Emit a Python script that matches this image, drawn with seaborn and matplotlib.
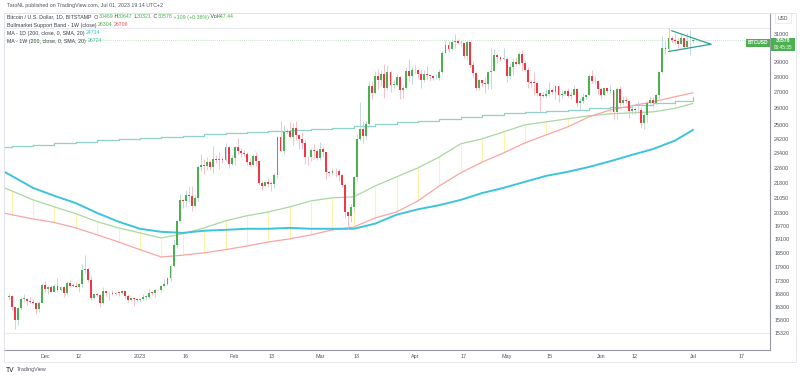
import matplotlib
matplotlib.use("Agg")
import matplotlib.pyplot as plt
from matplotlib.patches import Rectangle
from matplotlib.ticker import FixedLocator, FixedFormatter, NullLocator
import pandas as pd
import seaborn as sns

# ---------------- data ----------------
# daily BTCUSD candles, 2022-11-19 .. 2023-07-01
candle_start = "2022-11-19"
first_open = 16690
closes = [
    16700, 16280, 15780, 16230, 16600, 16600, 16520, 16460, 16440, 16210, 16440, 17160,
    16980, 17090, 16880, 17110, 16970, 17090, 16840, 17230, 17130, 17130,
    17090, 17210, 17780, 17810, 17360, 16630, 16780, 16740, 16440, 16900,
    16830, 16820, 16780, 16840, 16830, 16920, 16700, 16550, 16630, 16600, 16540,
    16610, 16670, 16670, 16850, 16830, 16950, 16940, 17120, 17190, 17440,
    17940, 18850, 19930, 20950, 20880, 21180, 21130, 20680, 21070, 22670,
    22780, 22710, 22920, 22630, 23060, 23010, 23080, 23030, 23740, 22830, 23130,
    23730, 23490, 23430, 23330, 22930, 22760, 23260, 22960, 21800, 21630,
    21860, 21780, 21780, 22200, 24330, 23520, 24570, 24630, 24280, 24830,
    24440, 24190, 23940, 23190, 23160, 23560, 23490, 23150,
    23650, 23470, 22360, 22350, 22430, 22410, 22200, 21710, 20360, 20190,
    20630, 22130, 24190, 24760, 24380, 25050, 27420, 26960, 28040, 27790,
    28170, 27310, 28330, 27490, 27490, 28000, 27140, 27270, 28360, 28030, 28480,
    28460, 28200, 27800, 28170, 28160, 28030, 27920, 27950, 28330, 29640,
    30220, 29900, 30390, 30470, 30320, 30320, 29430, 30400, 28800, 28240,
    27260, 27820, 27590, 27510, 28300, 28420, 29470, 29320, 29230, 29230,
    28070, 28680, 29030, 28850, 29530, 28900, 28450, 27690, 27630, 27620,
    26990, 26800, 26780, 26920, 27170, 27030, 27400, 26830, 26890, 27110,
    26750, 26850, 27230, 26330, 26480, 26720, 26860, 28080, 27740, 27700, 27210,
    26820, 27250, 27070, 27120, 25760, 27240, 26350, 26500, 26480, 25850,
    25940, 25900, 25920, 25130, 25580, 26340, 26520, 26340, 26850, 28310,
    30000, 29890, 30690, 30550, 30470, 30270, 30690, 30080, 30450, 30469,
    30578,
]
highs = [
    16820, 16750, 16290, 16300, 16680, 16810, 16620, 16690, 16600, 16480, 16530, 17250,
    17320, 17100, 17150, 17200, 17420, 17110, 17130, 17300, 17350, 17230,
    17270, 17250, 18000, 18390, 17850, 17530, 16800, 16860, 16810, 17060,
    16910, 16860, 16950, 16860, 16870, 16940, 16960, 16780, 16660, 16640, 16640,
    16630, 16780, 16770, 16990, 16880, 17010, 16960, 17170, 17390, 17490,
    17990, 19100, 19990, 21260, 21000, 21460, 21640, 21640, 21190, 22730,
    23360, 23080, 23160, 23000, 23790, 23300, 23480, 23160, 23950, 23810, 23300,
    23800, 24250, 23710, 23580, 23440, 23150, 23350, 23450, 22990, 21930,
    21900, 22090, 21890, 22320, 24380, 25250, 24990, 24740, 25180, 25120,
    25250, 24470, 24600, 24140, 23220, 23680, 23880, 23600,
    24000, 23790, 23480, 22410, 22620, 22600, 22530, 22270, 21830, 20360,
    20770, 22160, 24500, 26400, 25230, 25220, 27750, 27720, 28400, 28500,
    28430, 28840, 28780, 28390, 27800, 28200, 28030, 27500, 28630, 29180, 28650,
    28800, 28530, 28490, 28440, 28750, 28180, 28100, 28170, 28540, 29760,
    30550, 30480, 30600, 31000, 30600, 30540, 30320, 30480, 30420, 29080,
    28370, 27880, 27820, 28000, 28400, 30000, 29880, 29580, 29440, 29950,
    29330, 28900, 29270, 29360, 29680, 29840, 29170, 28640, 27830, 28300,
    27650, 27030, 27020, 27200, 27650, 27300, 27480, 27480, 27180, 27160,
    27280, 27050, 27480, 27230, 26630, 26930, 26920, 28200, 28440, 28030, 27830,
    27350, 27300, 27300, 27440, 27130, 27350, 27380, 26800, 26790, 26540,
    26200, 26090, 26430, 26090, 25750, 26470, 26780, 26690, 26990, 28400,
    30800, 30500, 31400, 30810, 31050, 30660, 31000, 30700, 31030, 31280,
    30647,
]
lows = [
    16560, 16180, 15480, 15620, 16170, 16480, 16360, 16420, 16400, 16000, 16110, 16430,
    16880, 16800, 16860, 16880, 16880, 16920, 16690, 16740, 17090, 17090,
    17070, 16880, 17080, 17660, 17280, 16570, 16590, 16660, 16300, 16400,
    16730, 16560, 16760, 16770, 16730, 16780, 16610, 16470, 16500, 16340, 16480,
    16490, 16550, 16610, 16650, 16760, 16670, 16910, 16910, 17100, 17150,
    17320, 17900, 18710, 19900, 20560, 20600, 20850, 20410, 20660, 20880,
    22450, 22300, 22500, 22480, 22330, 22850, 22560, 22880, 22980, 22570, 22730,
    22780, 23360, 23200, 23260, 22750, 22640, 22720, 22680, 21690, 21460,
    21600, 21620, 21380, 21530, 22050, 23520, 23340, 24450, 24260, 23860,
    24150, 23600, 23600, 22820, 22730, 22970, 23100, 23030,
    23020, 23200, 21990, 22160, 22200, 22110, 21930, 21590, 20070, 19570,
    19900, 20380, 21930, 24050, 23950, 24200, 24950, 26600, 26900, 27200,
    27380, 26650, 27140, 27020, 27250, 27400, 26560, 26650, 27240, 27720, 27550,
    28250, 27880, 27260, 27670, 27820, 27740, 27780, 27880, 27800, 28170,
    29620, 29700, 29860, 29960, 30240, 30150, 29260, 29120, 28600, 28010,
    27130, 27150, 27360, 26960, 27200, 27220, 28380, 28900, 29060, 29110,
    27690, 27880, 28120, 28700, 28820, 28400, 28400, 27300, 27340, 26840,
    26750, 25850, 26710, 26620, 26750, 26880, 26610, 26390, 26670, 26860,
    26700, 26550, 26820, 26100, 25870, 26350, 26600, 26830, 27570, 27560, 26880,
    26600, 26780, 26950, 26950, 25380, 25350, 26130, 26230, 26330, 25400,
    25630, 25630, 25740, 24830, 24780, 25180, 26170, 26300, 26260, 26650,
    28270, 29540, 29820, 30300, 30270, 29950, 30230, 29900, 30060, 29500,
    30321,
]

# weekly points (Sundays, last = Jul 01) for the overlays
week_dates = list(pd.date_range("2022-11-13", "2023-06-25", freq="7D")) + [pd.Timestamp("2023-07-01")]
ma_1d = [22800, 22180, 21560, 21160, 20800, 20320, 19910, 19580, 19440, 19390, 19490, 19530,
         19580, 19580, 19620, 19580, 19580, 19580, 19820, 20240, 20500, 20700, 20960, 21300,
         21560, 21870, 22180, 22390, 22650, 22960, 23300, 23630, 24090, 24714]
ma_1w = [23740, 23800, 23860, 23940, 24030, 24110, 24200, 24260, 24310, 24370, 24460, 24520,
         24600, 24660, 24720, 24780, 24830, 24950, 25070, 25190, 25250, 25370, 25490, 25610,
         25730, 25790, 25850, 25910, 26040, 26100, 26220, 26350, 26470, 26724]
band_sma = [21850, 21410, 20960, 20615, 20290, 19910, 19620, 19390, 19160, 19350, 19620, 19950,
            20190, 20370, 20615, 20910, 21060, 21110, 21660, 22130, 22600, 23190, 23920, 24200,
            24600, 25010, 25190, 25370, 25550, 25670, 25730, 25790, 26000, 26304]
band_ema = [20450, 20240, 20040, 19870, 19620, 19300, 18980, 18640, 18320, 18400, 18500, 18640,
            18800, 18980, 19120, 19300, 19530, 19660, 20090, 20370, 20910, 21660, 22340, 22910,
            23410, 23970, 24430, 24890, 25490, 25910, 26160, 26410, 26720, 26970]

# triangle drawing
tri_upper_x = ["2023-06-24 00:00", "2023-07-06 21:00"]
tri_upper_y = [31220, 30240]
tri_lower_x = ["2023-06-23 00:00", "2023-07-06 21:00"]
tri_lower_y = [29730, 30240]

last_price = 30578
level_lines = [31450, 15320]

price_ticks = [31000, 29000, 28000, 27000, 26000, 25000, 24200, 23400, 22600, 21800, 21050,
               20300, 19700, 19100, 18500, 17900, 17300, 16800, 16300, 15800, 15320]
date_ticks = ["2022-12-01", "2022-12-12", "2023-01-01", "2023-01-16", "2023-02-01", "2023-02-13",
              "2023-03-01", "2023-03-13", "2023-04-01", "2023-04-17", "2023-05-01", "2023-05-15",
              "2023-06-01", "2023-06-12", "2023-07-01", "2023-07-17"]
date_labels = ["Dec", "12", "2023", "16", "Feb", "13", "Mar", "13", "Apr", "17", "May", "15",
               "Jun", "12", "Jul", "17"]

# ---------------- figure ----------------
sns.set_theme(style="white")
plt.rcParams["font.family"] = ["Liberation Sans", "DejaVu Sans"]

W, H = 800, 378
GREEN, RED = "#4caf50", "#f23645"
GREY_TXT = "#50535e"

fig = plt.figure(figsize=(W / 100, H / 100), dpi=100)
fig.patch.set_facecolor("white")
ax = fig.add_axes([4 / W, 1 - 350 / H, 766 / W, 337 / H])

df = pd.DataFrame({"date": pd.date_range(candle_start, periods=len(closes), freq="D"),
                   "close": closes, "high": highs, "low": lows})
df["open"] = [first_open] + closes[:-1]
up = df["close"] >= df["open"]

wk = pd.DataFrame({"date": week_dates, "ma_1d": ma_1d, "ma_1w": ma_1w,
                   "sma": band_sma, "ema": band_ema})

# band fill shows as thin weekly verticals
ax.vlines(wk["date"][:-1], wk["ema"][:-1], wk["sma"][:-1], colors="#fff3a8", lw=0.8, zorder=1)

sns.lineplot(data=wk, x="date", y="ma_1w", ax=ax, color="#8fd1c8", lw=0.9,
             drawstyle="steps-post", zorder=2)
sns.lineplot(data=wk, x="date", y="sma", ax=ax, color="#a8d8a0", lw=0.9, zorder=2)
sns.lineplot(data=wk, x="date", y="ema", ax=ax, color="#f7a6a6", lw=0.9, zorder=2)
sns.lineplot(data=wk, x="date", y="ma_1d", ax=ax, color="#3dc3dc", lw=1.4, zorder=2)

for y in level_lines:
    ax.axhline(y, color="#e4e6ec", lw=0.6, zorder=0)
ax.axhline(last_price, color=GREEN, lw=0.6, ls=(0, (1, 1.5)), alpha=0.45, zorder=0)

# candles
ax.vlines(df["date"][up], df["low"][up], df["high"][up], colors="#bcd2dc", lw=0.6, zorder=3)
ax.vlines(df["date"][~up], df["low"][~up], df["high"][~up], colors="#f6b8be", lw=0.6, zorder=3)
body = (df["close"] - df["open"]).abs().clip(lower=25)
ax.bar(df["date"], body, bottom=df[["open", "close"]].min(axis=1), width=0.62,
       color=[GREEN if u else RED for u in up], edgecolor="none", zorder=4)

ax.plot(pd.to_datetime(tri_upper_x), tri_upper_y, color="#2aa193", lw=0.9, zorder=5)
ax.plot(pd.to_datetime(tri_lower_x), tri_lower_y, color="#2aa193", lw=0.9, zorder=5)

# scales
ax.set_yscale("log")
ax.set_ylim(14716, 32550)
ax.set_xlim(pd.Timestamp("2022-11-17 12:00"), pd.Timestamp("2023-07-26 05:00"))
ax.yaxis.set_major_locator(FixedLocator(price_ticks))
ax.yaxis.set_major_formatter(FixedFormatter([str(t) for t in price_ticks]))
ax.yaxis.set_minor_locator(NullLocator())
ax.yaxis.tick_right()
ax.set_xticks(pd.to_datetime(date_ticks))
ax.set_xticklabels(date_labels)
ax.tick_params(axis="both", length=0, labelsize=3.9, labelcolor=GREY_TXT)
ax.tick_params(axis="y", pad=3)
ax.tick_params(axis="x", pad=3)
ax.set_xlabel("")
ax.set_ylabel("")
for side in ["left", "top"]:
    ax.spines[side].set_color("#e0e3eb")
    ax.spines[side].set_linewidth(0.6)
for side in ["bottom", "right"]:
    ax.spines[side].set_color("#9598a1")
    ax.spines[side].set_linewidth(0.8)

# outer frame of the chart pane
fig.add_artist(Rectangle((4 / W, 1 - 362 / H), 792 / W, 349 / H, transform=fig.transFigure,
                         fill=False, edgecolor="#e0e3eb", lw=0.6))

# ---------------- texts ----------------
fig.canvas.draw()
renderer = fig.canvas.get_renderer()


def text_row(x_px, y_px, parts, size=3.8):
    x = x_px
    for txt, col in parts:
        t = fig.text(x / W, 1 - y_px / H, txt, color=col, fontsize=size, ha="left", va="center")
        x = t.get_window_extent(renderer).x1
    return x


DARK = "#3a3e49"
fig.text(7 / W, 1 - 6 / H, "TaroNL published on TradingView.com, Jul 01, 2023 19:14 UTC+2",
         fontsize=3.8, color=GREY_TXT, va="center")
text_row(7, 17, [("Bitcoin / U.S. Dollar, 1D, BITSTAMP  O", DARK), ("30469", GREEN),
                 (" H", DARK), ("30647", GREEN), (" L", DARK), ("30321", GREEN),
                 (" C", DARK), ("30578", GREEN), (" +109 (+0.36%)", GREEN),
                 (" Vol", DARK), ("447.44", GREEN)])
text_row(7, 25, [("Bullmarket Support Band - 1W (close) ", DARK), ("26304", GREEN),
                 (" ", DARK), ("26706", "#f7525f")])
text_row(7, 33, [("MA - 1D (200, close, 0, SMA, 20) ", DARK), ("24714", "#26c6da")])
text_row(7, 41, [("MA - 1W (200, close, 0, SMA, 20) ", DARK), ("26724", "#4db6ac")])

# price scale extras
fig.text(783 / W, 1 - 18 / H, "USD", fontsize=3.6, color=GREY_TXT, ha="center", va="center",
         bbox=dict(boxstyle="square,pad=0.5", fc="white", ec="#e0e3eb", lw=0.5))
fig.add_artist(Rectangle((771 / W, 1 - 51 / H), 24 / W, 13 / H, transform=fig.transFigure,
                         color=GREEN, lw=0))
fig.text(783 / W, 1 - 41 / H, "30578", fontsize=3.8, color="white", ha="center", va="center",
         fontweight="bold")
fig.text(783 / W, 1 - 47.5 / H, "06:45:35", fontsize=3.4, color="white", ha="center", va="center")
fig.text(758 / W, 1 - 43 / H, "BTCUSD", fontsize=3.5, color="white", ha="center", va="center",
         fontweight="bold", bbox=dict(boxstyle="square,pad=0.35", fc=GREEN, ec="none"))

# footer
x_end = text_row(6, 370, [("TV", "#131722")], size=4.8)
fig.text((x_end + 2) / W, 1 - 370 / H, "TradingView", fontsize=3.9, color=GREY_TXT, va="center")

fig.savefig("out.png", dpi=100, facecolor="white")
